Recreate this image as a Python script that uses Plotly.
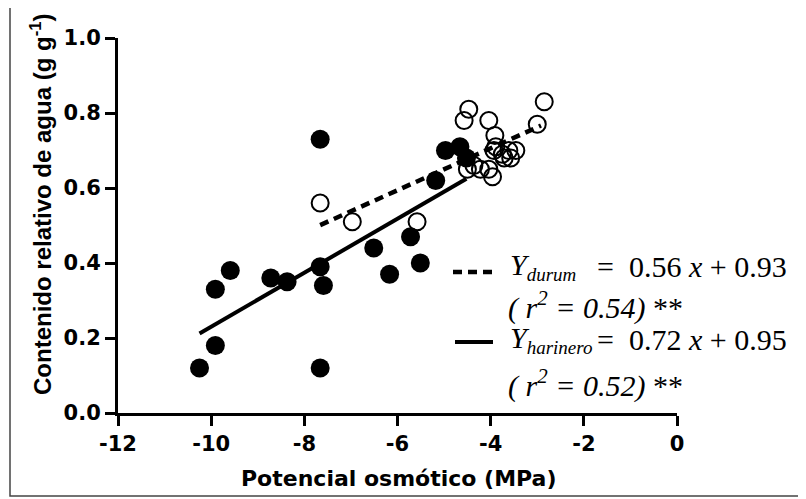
import numpy as np
import plotly.graph_objects as go

# trigo harinero (filled) and durum (open)
harinero_x = [-10.25, -9.91, -9.91, -9.59, -8.72, -8.37, -7.66, -7.66, -7.59, -7.66,
              -6.51, -6.17, -5.72, -5.51, -5.18, -4.97, -4.66, -4.52]
harinero_y = [0.12, 0.18, 0.33, 0.38, 0.36, 0.35, 0.73, 0.39, 0.34, 0.12,
              0.44, 0.37, 0.47, 0.40, 0.62, 0.70, 0.71, 0.68]

durum_x = [-7.66, -6.97, -5.58, -4.47, -4.57, -4.04, -2.85, -3.00, -3.91, -3.89, -3.93,
           -3.75, -3.61, -3.46, -3.71, -3.57, -4.36, -4.50, -4.22, -4.04, -3.96]
durum_y = [0.56, 0.51, 0.51, 0.81, 0.78, 0.78, 0.83, 0.77, 0.74, 0.71, 0.70,
           0.69, 0.70, 0.70, 0.68, 0.68, 0.66, 0.65, 0.65, 0.65, 0.63]

# fitted lines: slope, intercept and x extent
durum_fit = (0.056, 0.93)
durum_fit_x = [-7.66, -2.92]
harinero_fit = (0.072, 0.95)
harinero_fit_x = [-10.25, -4.52]

x_ticks = [-12, -10, -8, -6, -4, -2, 0]
x_labels = ["-12", "-10", "-8", "-6", "-4", "-2", "0"]
y_ticks = [0.0, 0.2, 0.4, 0.6, 0.8, 1.0]
y_labels = ["0.0", "0.2", "0.4", "0.6", "0.8", "1.0"]

WIDE = "DejaVu Sans"
SANS = "Liberation Sans"
SERIF = "Liberation Serif"

fig = go.Figure()

dx = np.array(durum_fit_x)
fig.add_trace(go.Scatter(x=dx, y=durum_fit[0] * dx + durum_fit[1], mode="lines",
                         line=dict(color="black", width=4.5, dash="9px,6px")))
hx = np.array(harinero_fit_x)
fig.add_trace(go.Scatter(x=hx, y=harinero_fit[0] * hx + harinero_fit[1], mode="lines",
                         line=dict(color="black", width=4)))

fig.add_trace(go.Scatter(x=durum_x, y=durum_y, mode="markers",
                         marker=dict(symbol="circle-open", size=17, color="black",
                                     line=dict(width=2, color="black"))))
fig.add_trace(go.Scatter(x=harinero_x, y=harinero_y, mode="markers",
                         marker=dict(symbol="circle", size=19, color="black")))

axis_common = dict(showline=True, linecolor="black", linewidth=3, ticks="outside",
                   ticklen=10, tickwidth=3, tickcolor="black", showgrid=False,
                   zeroline=False, tickfont=dict(family=WIDE, size=21, color="black", weight="bold"))

fig.update_xaxes(range=[-12, 0], tickvals=x_ticks, ticktext=x_labels, **axis_common)
fig.update_yaxes(range=[0, 1.0], tickvals=y_ticks, ticktext=y_labels, **axis_common)

# the page body adds an 8px offset, so the figure margins are set 8px smaller
W, H = 806, 499
L, R, T, B = 110, 137, 30, 94
pw, ph = W - L - R, H - T - B
OFF = 8


def px(x):
    return (x - OFF - L) / pw


def py(y):
    return (H - B - (y - OFF)) / ph


ann = []
ann.append(dict(text="Potencial osmótico (MPa)", x=px(398), y=py(478), xref="paper", yref="paper",
                showarrow=False, xanchor="center", yanchor="middle",
                font=dict(family=WIDE, size=22, color="black", weight="bold")))
ann.append(dict(text="Contenido relativo de agua (g g<sup>-1</sup>)", x=px(41), y=py(204),
                xref="paper", yref="paper", showarrow=False, textangle=-90,
                xanchor="center", yanchor="middle",
                font=dict(family=SANS, size=24, color="black", weight="bold")))

leg_font = dict(family=SERIF, size=30, color="black")
sub = "<sub><span style='font-size:19px'>{}</span></sub>"
rows = [
    ("<i>Y" + sub.format("durum") + "</i>", "=  0.56 <i>x</i> + 0.93", 266),
    (None, "<i>( r<sup>2</sup> = 0.54)</i> **", 305),
    ("<i>Y" + sub.format("harinero") + "</i>", "=  0.72 <i>x</i> + 0.95", 339),
    (None, "<i>( r<sup>2</sup> = 0.52)</i> **", 383),
]
for lab, eq, yy in rows:
    if lab:
        ann.append(dict(text=lab, x=px(508), y=py(yy), xref="paper", yref="paper", showarrow=False,
                        xanchor="left", yanchor="middle", font=leg_font))
        ann.append(dict(text=eq, x=px(595), y=py(yy), xref="paper", yref="paper", showarrow=False,
                        xanchor="left", yanchor="middle", font=leg_font))
    else:
        ann.append(dict(text=eq, x=px(506), y=py(yy), xref="paper", yref="paper", showarrow=False,
                        xanchor="left", yanchor="middle", font=leg_font))

shapes = [
    dict(type="line", xref="paper", yref="paper", x0=px(453), x1=px(493), y0=py(272), y1=py(272),
         line=dict(color="black", width=4.5, dash="9px,6px")),
    dict(type="line", xref="paper", yref="paper", x0=px(455), x1=px(493), y0=py(342), y1=py(342),
         line=dict(color="black", width=4)),
    dict(type="rect", xref="paper", yref="paper", x0=px(10), x1=px(803), y0=py(496), y1=py(5),
         line=dict(color="#444444", width=1.5)),
]

fig.update_layout(
    width=W, height=H,
    margin=dict(l=L, r=R, t=T, b=B),
    plot_bgcolor="white", paper_bgcolor="white",
    showlegend=False,
    annotations=ann,
    shapes=shapes,
)

fig.write_html("out.html")
